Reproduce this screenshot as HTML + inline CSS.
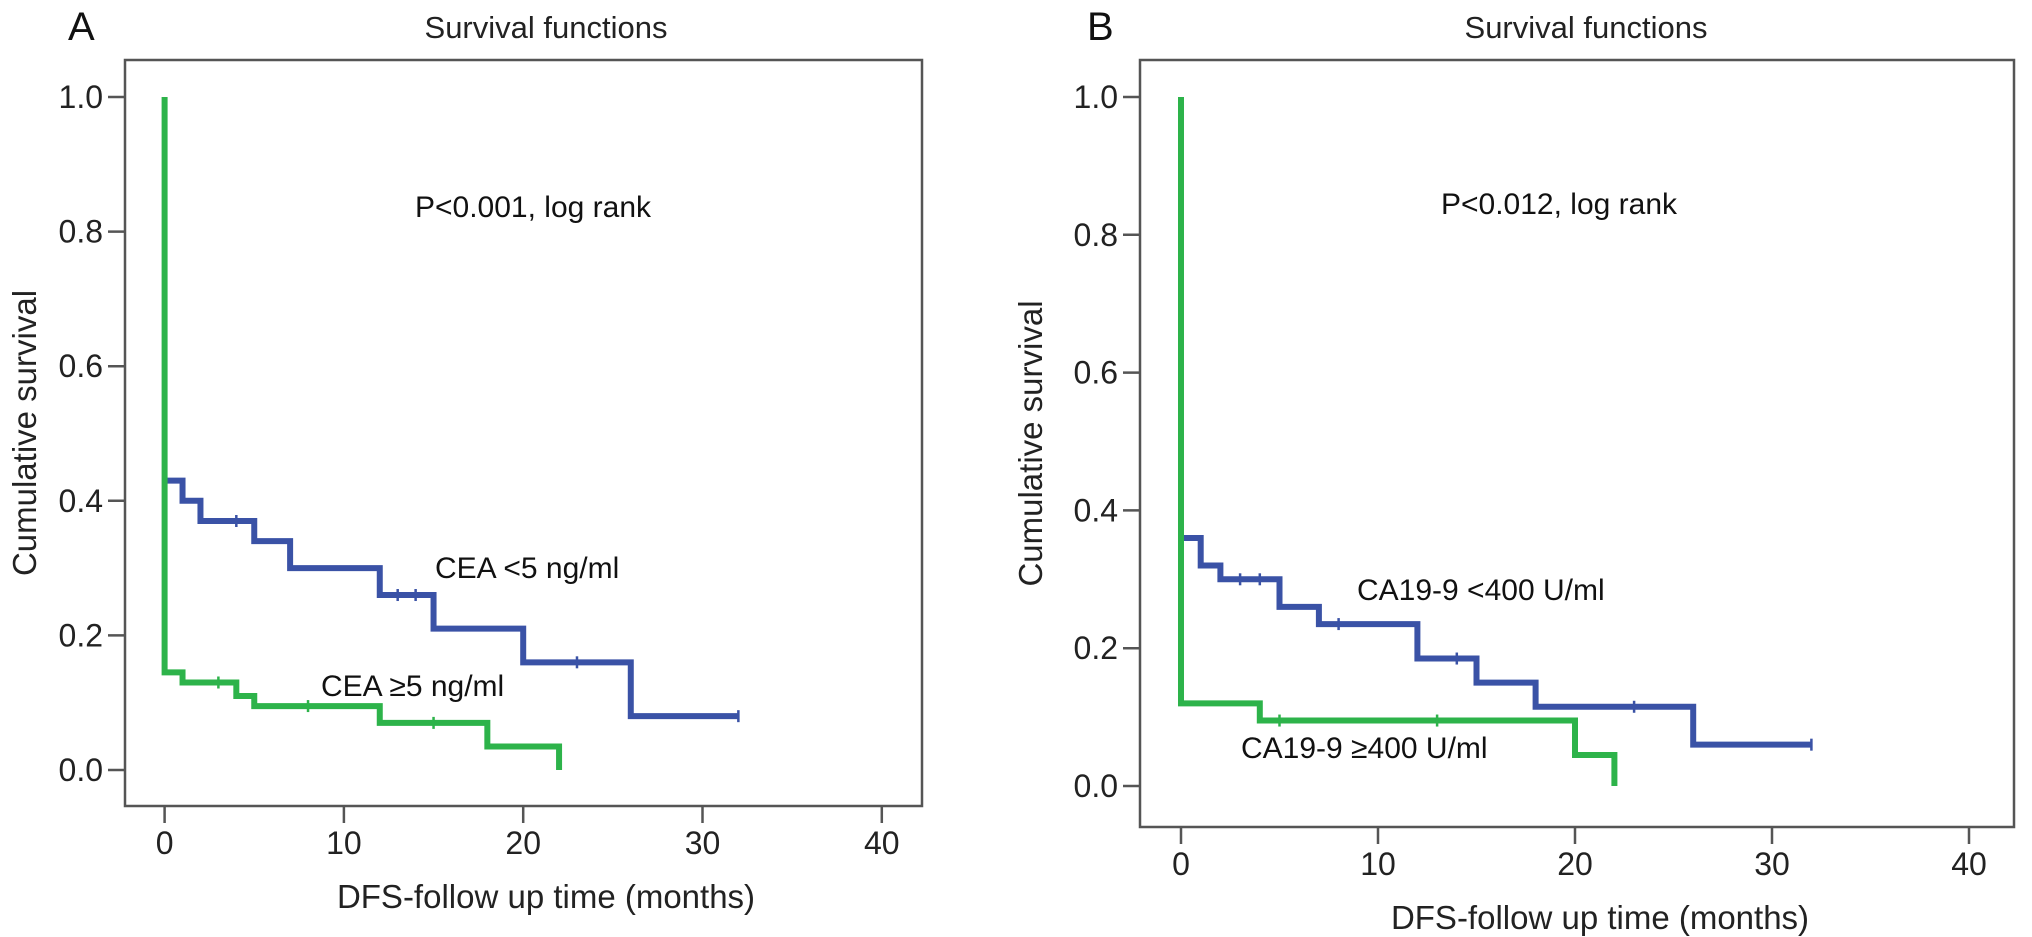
<!DOCTYPE html>
<html><head><meta charset="utf-8"><style>
html,body{margin:0;padding:0;background:#fff;}
svg{display:block;font-family:"Liberation Sans",Arial,sans-serif;}
</style></head><body>
<svg id="chart" width="2032" height="937" viewBox="0 0 2032 937" xmlns="http://www.w3.org/2000/svg"></svg>
<script>
const xTicks=[0,10,20,30,40];
const yTicks=[0,0.2,0.4,0.6,0.8,1.0];
const yTickLabels=["0.0","0.2","0.4","0.6","0.8","1.0"];
// Panel A
const aBlueT=[0,1,2,5,7,12,15,20,26,32];
const aBlueS=[0.43,0.40,0.37,0.34,0.30,0.26,0.21,0.16,0.08,0.08];
const aBlueCens=[4,13,14,23,32];
const aGreenT=[0,0,1,4,5,12,18,22,22];
const aGreenS=[1.0,0.145,0.13,0.11,0.095,0.07,0.035,0.0,0.0];
const aGreenCens=[3,8,15];
// Panel B
const bBlueT=[0,1,2,5,7,12,15,18,26,32];
const bBlueS=[0.36,0.32,0.30,0.26,0.235,0.185,0.15,0.115,0.06,0.06];
const bBlueCens=[3,4,8,14,23,32];
const bGreenT=[0,0,4,20,22,22];
const bGreenS=[1.0,0.12,0.095,0.045,0.0,0.0];
const bGreenCens=[5,13];

const NS="http://www.w3.org/2000/svg";
const svg=document.getElementById('chart');
function mk(tag,attrs,parent){const e=document.createElementNS(NS,tag);for(const k in attrs)e.setAttribute(k,attrs[k]);(parent||svg).appendChild(e);return e;}
function txt(s,attrs,parent){const e=mk('text',attrs,parent);e.textContent=s;return e;}

function panel(p){
  const g=mk('g',{});
  
  
  const xs=t=>p.x0+t*p.xpm;
  const ys=v=>p.y0-v*(p.y0-p.y1);
  const frame=mk('rect',{x:p.left,y:p.top,width:p.right-p.left,height:p.bottom-p.top,fill:'none',stroke:'#555',"stroke-width":2.5},g);
  
  
  const pl=txt(p.id,{x:p.lx,y:40,"font-size":40,fill:'#111'},g);
  
  
  const ti=txt('Survival functions',{x:p.tx,y:38,"font-size":31,fill:'#222',"text-anchor":'middle'},g);
  
  
  yTicks.forEach((v,i)=>{
    const y=ys(v);
    const tk=mk('line',{x1:p.left-17,x2:p.left,y1:y,y2:y,stroke:'#555',"stroke-width":2.5},g);
    
    
    const tl=txt(yTickLabels[i],{x:p.left-22,y:y+11,"font-size":32,fill:'#222',"text-anchor":'end'},g);
    
    
  });
  xTicks.forEach(t=>{
    const x=xs(t);
    const tk=mk('line',{x1:x,x2:x,y1:p.bottom,y2:p.bottom+17,stroke:'#555',"stroke-width":2.5},g);
    
    
    const tl=txt(String(t),{x:x,y:p.bottom+48,"font-size":32,fill:'#222',"text-anchor":'middle'},g);
    
    
  });
  const xt=txt('DFS-follow up time (months)',{x:p.xtx,y:p.bottom+102,"font-size":33,fill:'#222',"text-anchor":'middle'},g);
  
  
  const yc=(p.top+p.bottom)/2;
  const yt=txt('Cumulative survival',{x:p.ytx,y:yc,"font-size":33,fill:'#222',"text-anchor":'middle',transform:`rotate(-90 ${p.ytx} ${yc})`},g);
  
  
  function series(T,S,C,color,name){
    let d=`M${xs(T[0])},${ys(S[0])}`;
    for(let i=1;i<T.length;i++){d+=` H${xs(T[i])} V${ys(S[i])}`;}
    const path=mk('path',{d:d,fill:'none',stroke:color,"stroke-width":6,"stroke-linejoin":'miter'},g);
    
    
    C.forEach(c=>{
      let s=S[0];for(let i=0;i<T.length;i++){if(T[i]<=c)s=S[i];}
      const m=mk('line',{x1:xs(c),x2:xs(c),y1:ys(s)-6,y2:ys(s)+6,stroke:color,"stroke-width":2.5},g);
      
      
    });
  }
  series(p.bT,p.bS,p.bC,'#3a52a6','curve-low');
  series(p.gT,p.gS,p.gC,'#2db34a','curve-high');
  const pv=txt(p.ptext,{x:p.px,y:p.py,"font-size":30,fill:'#111'},g);
  
  
  const l1=txt(p.l1,{x:p.l1x,y:p.l1y,"font-size":30,fill:'#111'},g);
  
  
  const l2=txt(p.l2,{x:p.l2x,y:p.l2y,"font-size":30,fill:'#111'},g);
  
  
}
panel({id:'A',left:125,right:922,top:60,bottom:806,x0:164.6,xpm:17.93,y0:770,y1:97,lx:68,tx:546,xtx:546,ytx:36,
  bT:aBlueT,bS:aBlueS,bC:aBlueCens,gT:aGreenT,gS:aGreenS,gC:aGreenCens,
  ptext:'P<0.001, log rank',px:415,py:217,l1:'CEA <5 ng/ml',l1x:435,l1y:578,l2:'CEA \u22655 ng/ml',l2x:321,l2y:696});
panel({id:'B',left:1140,right:2014,top:60,bottom:827,x0:1181,xpm:19.7,y0:786,y1:97,lx:1087,tx:1586,xtx:1600,ytx:1042,
  bT:bBlueT,bS:bBlueS,bC:bBlueCens,gT:bGreenT,gS:bGreenS,gC:bGreenCens,
  ptext:'P<0.012, log rank',px:1441,py:214,l1:'CA19-9 <400 U/ml',l1x:1357,l1y:600,l2:'CA19-9 \u2265400 U/ml',l2x:1241,l2y:758});
</script>
</body></html>
